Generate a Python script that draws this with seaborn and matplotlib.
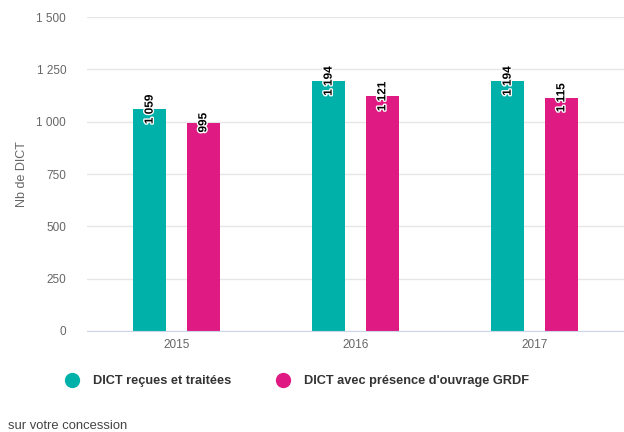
import numpy as np
import pandas as pd
import matplotlib
matplotlib.use("Agg")
import matplotlib.pyplot as plt
import matplotlib.patheffects as pe
from matplotlib.lines import Line2D
from matplotlib.ticker import FuncFormatter, FixedLocator
import seaborn as sns

# ---- data ----
years = ["2015", "2016", "2017"]
series = ["DICT reçues et traitées", "DICT avec présence d'ouvrage GRDF"]
recues = [1059, 1194, 1194]
grdf = [995, 1121, 1115]
colors = ["#00B1A9", "#DF1B83"]
y_ticks = [0, 250, 500, 750, 1000, 1250, 1500]

df = pd.DataFrame({
    "annee": years * 2,
    "serie": [series[0]] * 3 + [series[1]] * 3,
    "nb": recues + grdf,
})

def fmt(v, pos=None):
    return f"{int(v):,}".replace(",", " ")

sns.set_style("white")
plt.rcParams["font.family"] = ["Liberation Sans", "DejaVu Sans"]

fig = plt.figure(figsize=(6.24, 4.32), dpi=100)
ax = fig.add_axes([0.1394, 0.2338, 0.8606, 0.7268])

sns.barplot(data=df, x="annee", y="nb", hue="serie", palette=colors,
            width=0.6, gap=0.38, saturation=1, linewidth=0, ax=ax, legend=False)

# value labels, rotated, centred on the top of each bar
for bar in ax.patches:
    h = bar.get_height()
    if h == 0:
        continue
    ax.text(bar.get_x() + bar.get_width() / 2, h, fmt(h), rotation=90,
            ha="center", va="center", fontsize=8.5, fontweight="bold", color="black",
            path_effects=[pe.withStroke(linewidth=2, foreground="white")])

ax.set_ylim(0, 1500)
ax.set_xlim(-0.5, 2.5)
ax.set_yticks(y_ticks)
ax.yaxis.set_major_formatter(FuncFormatter(fmt))
ax.grid(axis="y", color="#e6e6e6", linewidth=1)
ax.set_axisbelow(True)

ax.xaxis.set_minor_locator(FixedLocator([-0.5, 0.5, 1.5, 2.5]))
ax.tick_params(axis="x", which="major", length=0, pad=6, labelsize=8.5, labelcolor="#666666")
ax.tick_params(axis="x", which="minor", length=10, color="#ccd6eb", width=1)
ax.tick_params(axis="y", length=0, pad=15, labelsize=8.5, labelcolor="#666666")
for s in ["top", "right", "left"]:
    ax.spines[s].set_visible(False)
ax.spines["bottom"].set_color("#ccd6eb")
ax.set_xlabel("")
ax.set_ylabel("Nb de DICT", fontsize=9, color="#666666")
ax.yaxis.set_label_coords(-0.109, 0.5)

handles = [Line2D([], [], marker="o", linestyle="", markersize=10,
                  markerfacecolor=c, markeredgecolor=c) for c in colors]
fig.legend(handles, series, loc="center left", bbox_to_anchor=(0.077, 0.117),
           ncol=2, frameon=False, handletextpad=0.6, columnspacing=3.1,
           prop={"weight": "bold", "size": 9.2}, labelcolor="#333333")

fig.text(0.013, 0.008, "sur votre concession", fontsize=9.4, color="#444444")

fig.savefig("out.png", dpi=100)
